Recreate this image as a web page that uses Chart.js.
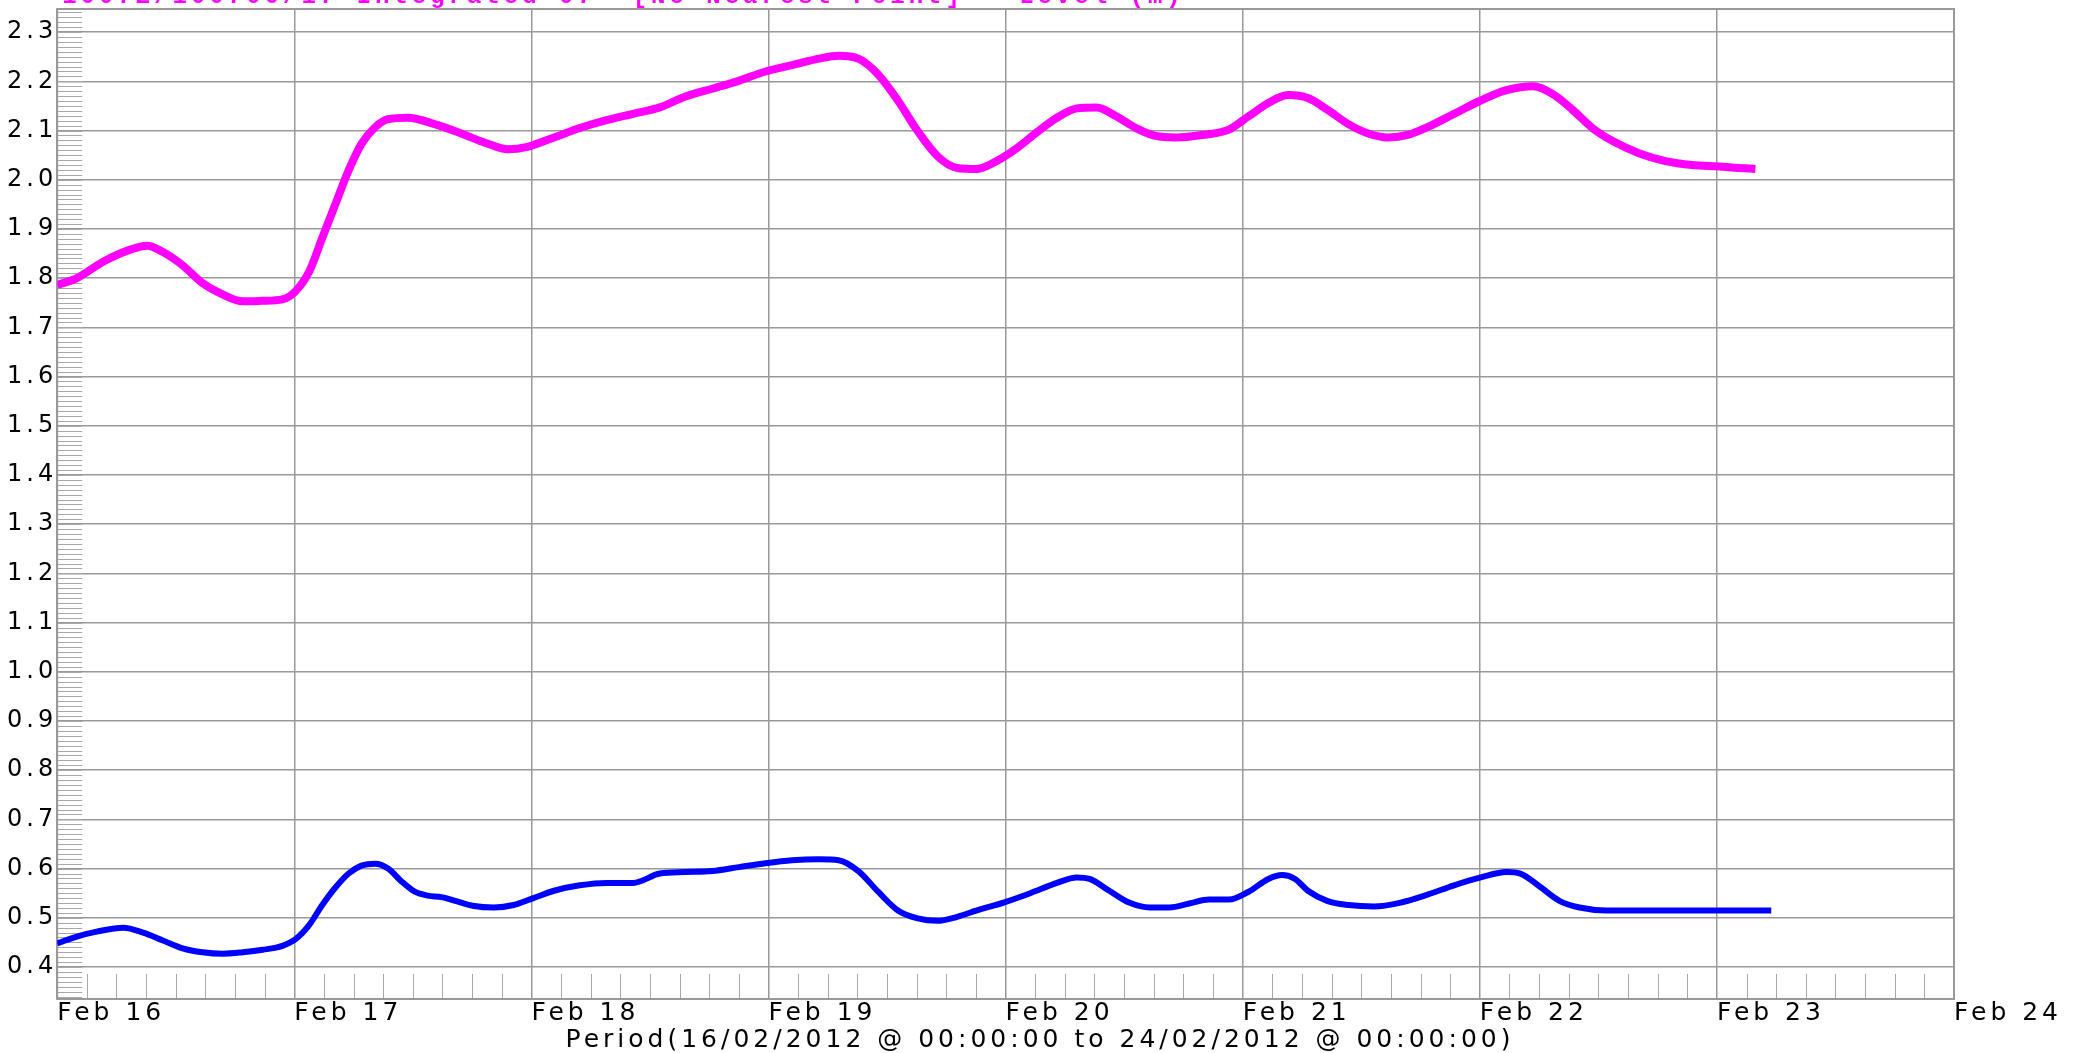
<!DOCTYPE html>
<html>
<head>
<meta charset="utf-8">
<script src="https://cdn.jsdelivr.net/npm/chart.js@4"></script>
<style>
  html, body { margin: 0; padding: 0; background: #fff; }
  #levelChart { display: block; }
</style>
</head>
<body>
<canvas id="levelChart" width="2073" height="1053"></canvas>
<script>
// hours since 16/02/2012 00:00
const dayLabels = ["Feb 16", "Feb 17", "Feb 18", "Feb 19", "Feb 20", "Feb 21", "Feb 22", "Feb 23", "Feb 24"];

const hoursTop = [0, 2, 4.7, 7.4, 9.1, 10.7, 12.7, 14.7, 16.75, 18.8, 20.8, 22.8, 24.1, 25.5, 26.8, 28.1, 29.5, 30.8,
  32.2, 33.5, 35.5, 38.2, 40.9, 43.6, 45.6, 47.6, 50.3, 52.9, 55.6, 58.3, 61.0, 63.6, 66.3, 69.0, 71.7, 74.4, 77.1,
  79.1, 81.1, 83.1, 85.1, 87.1, 89.1, 91.1, 93.1, 95.1, 97.2, 99.2, 101.2, 103.2, 105.2, 107.2, 109.2, 111.2, 113.2,
  115.9, 118.6, 120.6, 122.6, 124.6, 126.6, 128.6, 130.7, 132.7, 134.7, 136.7, 138.7, 141.4, 144.1, 146.7, 149.4,
  151.4, 153.4, 155.4, 157.5, 160.1, 162.8, 165.5, 168.2, 170.2, 171.9];
const levelTop = [1.786, 1.80, 1.834, 1.858, 1.866, 1.853, 1.826, 1.79, 1.767, 1.753, 1.754, 1.757, 1.773, 1.813, 1.88,
  1.947, 2.019, 2.073, 2.107, 2.123, 2.126, 2.113, 2.094, 2.073, 2.062, 2.067, 2.086, 2.105, 2.121, 2.134, 2.147,
  2.169, 2.185, 2.201, 2.22, 2.233, 2.246, 2.252, 2.246, 2.214, 2.161, 2.099, 2.048, 2.024, 2.022, 2.038, 2.065,
  2.097, 2.126, 2.145, 2.147, 2.129, 2.105, 2.089, 2.086, 2.091, 2.102, 2.129, 2.156, 2.172, 2.166, 2.142, 2.113,
  2.094, 2.086, 2.091, 2.107, 2.134, 2.161, 2.182, 2.19, 2.174, 2.142, 2.105, 2.078, 2.054, 2.038, 2.030, 2.027,
  2.024, 2.022];

const hoursLow = [0, 2, 4, 6.7, 8.7, 10.7, 12.7, 14.7, 16.75, 18.8, 20.8, 22.8, 24.1, 25.5, 26.8, 28.1, 29.5, 30.8,
  32.2, 33.5, 34.8, 36.2, 37.5, 38.9, 40.2, 42.2, 44.2, 46.2, 48.2, 50.3, 52.9, 55.6, 58.3, 61.0, 63.6, 66.3, 69.0,
  71.7, 74.4, 77.1, 79.1, 81.1, 83.1, 85.1, 87.1, 89.1, 91.1, 93.1, 95.8, 98.5, 101.2, 103.2, 104.5, 106.5, 108.5,
  110.6, 112.6, 114.6, 116.6, 118.6, 120.6, 122.6, 124.0, 125.3, 126.6, 128.6, 130.7, 133.3, 136.0, 138.7, 141.4,
  144.1, 146.7, 148.1, 150.1, 152.1, 154.1, 156.8, 160.1, 164.1, 168.2, 173.5];
const levelLow = [0.448, 0.462, 0.472, 0.48, 0.47, 0.454, 0.438, 0.430, 0.427, 0.43, 0.435, 0.443, 0.456, 0.485,
  0.525, 0.56, 0.59, 0.606, 0.61, 0.60, 0.575, 0.553, 0.545, 0.542, 0.535, 0.524, 0.521, 0.526, 0.54, 0.555, 0.566,
  0.571, 0.571, 0.59, 0.593, 0.595, 0.603, 0.611, 0.617, 0.619, 0.617, 0.595, 0.553, 0.515, 0.499, 0.494, 0.502,
  0.515, 0.531, 0.55, 0.571, 0.582, 0.579, 0.555, 0.531, 0.521, 0.521, 0.529, 0.537, 0.537, 0.553, 0.579, 0.587,
  0.579, 0.555, 0.534, 0.526, 0.523, 0.531, 0.547, 0.566, 0.582, 0.593, 0.59, 0.563, 0.534, 0.521, 0.515, 0.515,
  0.515, 0.515, 0.515];

const topTitle = "   1007Z/100700/17 Integrated 07  [No Nearest Point] - Level (m)";
const periodTitle = "Period(16/02/2012 @ 00:00:00 to 24/02/2012 @ 00:00:00)";

function toPoints(xs, ys) {
  return xs.map((x, i) => ({ x: x, y: ys[i] }));
}

// wide lettering like the original plot
const spacing = {
  id: "spacing",
  beforeLayout(chart) { chart.ctx.letterSpacing = "4px"; },
  beforeDraw(chart) { chart.ctx.letterSpacing = "4px"; }
};

// frame, short minor ticks on the left and along the bottom
const minorTicks = {
  id: "minorTicks",
  beforeDatasetsDraw(chart) {
    const ctx = chart.ctx;
    const area = chart.chartArea;
    const xs = chart.scales.x;
    const ys = chart.scales.y;
    ctx.save();
    ctx.strokeStyle = "#a8a8a8";
    ctx.lineWidth = 1;
    ctx.beginPath();
    for (let k = 34; k <= 234; k++) {
      const y = Math.round(ys.getPixelForValue(k / 100)) + 0.5;
      if (y < area.top || y > area.bottom) continue;
      ctx.moveTo(area.left, y);
      ctx.lineTo(area.left + 25, y);
    }
    for (let h = 3; h < 192; h += 3) {
      if (h % 24 === 0) continue;
      const x = Math.round(xs.getPixelForValue(h)) + 0.5;
      ctx.moveTo(x, area.bottom - 25);
      ctx.lineTo(x, area.bottom);
    }
    ctx.stroke();
    ctx.strokeStyle = "#999";
    ctx.lineWidth = 2;
    ctx.strokeRect(area.left, area.top, area.right - area.left, area.bottom - area.top);
    ctx.restore();
  }
};

const config = {
  type: "line",
  data: {
    datasets: [
      {
        label: "Level top",
        data: toPoints(hoursTop, levelTop),
        borderColor: "#ff00ff",
        borderWidth: 8,
        pointRadius: 0,
        cubicInterpolationMode: "monotone"
      },
      {
        label: "Level low",
        data: toPoints(hoursLow, levelLow),
        borderColor: "#0000ff",
        borderWidth: 6,
        pointRadius: 0,
        cubicInterpolationMode: "monotone"
      }
    ]
  },
  options: {
    responsive: false,
    animation: false,
    layout: { padding: { left: 7, right: 0, top: 0, bottom: 0 } },
    plugins: {
      legend: { display: false },
      tooltip: { enabled: false },
      title: {
        display: true,
        text: topTitle,
        color: "#ff00ff",
        align: "start",
        font: { family: "Liberation Mono", size: 24, lineHeight: 1 },
        padding: { top: -22, bottom: 0 }
      },
      subtitle: {
        display: true,
        text: periodTitle,
        position: "bottom",
        color: "#000",
        font: { family: "DejaVu Sans", size: 25, lineHeight: 1 },
        padding: { top: 0, bottom: 0 }
      }
    },
    scales: {
      x: {
        type: "linear",
        min: 0,
        max: 192,
        afterFit: (scale) => { scale.paddingRight = 119; },
        grid: { color: "#999", lineWidth: 1.5, drawTicks: false },
        border: { display: false },
        ticks: {
          stepSize: 24,
          autoSkip: false,
          maxRotation: 0,
          align: "start",
          padding: 2,
          color: "#000",
          font: { family: "DejaVu Sans", size: 25, lineHeight: 1 },
          callback: (v) => dayLabels[v / 24]
        }
      },
      y: {
        min: 0.335,
        max: 2.347,
        grid: { color: "#999", lineWidth: 1.5, drawTicks: false },
        border: { display: false },
        ticks: {
          stepSize: 0.1,
          includeBounds: false,
          padding: 0,
          color: "#000",
          font: { family: "DejaVu Sans", size: 24, lineHeight: 0.75 },
          callback: (v) => v.toFixed(1)
        }
      }
    }
  },
  plugins: [spacing, minorTicks]
};

const levelChart = new Chart(document.getElementById("levelChart"), config);
</script>
</body>
</html>
